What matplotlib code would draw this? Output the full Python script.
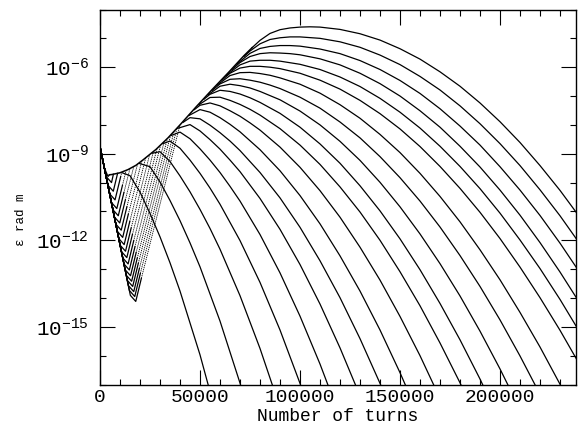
import numpy as np
import matplotlib
matplotlib.use("Agg")
import matplotlib.pyplot as plt
from matplotlib.ticker import NullFormatter

# Шрифт под старую печатную графику
plt.rcParams['font.family'] = ['Liberation Mono', 'DejaVu Sans']
plt.rcParams['mathtext.fontset'] = 'custom'
plt.rcParams['mathtext.rm'] = 'Liberation Mono'
plt.rcParams['mathtext.it'] = 'Liberation Mono'

# Все кривые стартуют из одной точки (lg eps при нуле оборотов)
start_log = -8.75

# Общая огибающая роста: обороты и lg eps
env_x = [4700, 6000, 10000, 14000, 18000, 21400, 28000, 34000, 40000, 48000, 56000, 64000, 72000, 76100]
env_log = [-9.73, -9.72, -9.66, -9.55, -9.40, -9.22, -8.85, -8.45, -8.00, -7.38, -6.78, -6.20, -5.60, -5.32]

# Начальный спад: точка схода с линии спада, минимум, начало подъёма, выход на огибающую
drop_x = [15180, 14680, 14180, 13650, 13120, 12560, 11970, 11350, 10710, 10060,
          9380, 8650, 7910, 7180, 6440, 5710, 4820, 3940, 3060, 2180]
drop_log = [-13.91, -13.74, -13.57, -13.39, -13.21, -13.02, -12.82, -12.61, -12.39, -12.17,
            -11.94, -11.69, -11.44, -11.19, -10.94, -10.69, -10.39, -10.09, -9.79, -9.49]
u_x = [17880, 17380, 16880, 16350, 15820, 15260, 14670, 14050, 13410, 12760,
       12080, 11350, 10610, 9880, 9140, 8410, 7520, 6640, 5760, 4000]
u_log = [-14.12, -13.95, -13.78, -13.60, -13.42, -13.23, -13.03, -12.82, -12.60, -12.38,
         -12.15, -11.90, -11.65, -11.40, -11.15, -10.90, -10.60, -10.30, -10.00, -9.79]
arm_x = [20680, 20180, 19680, 19150, 18620, 18060, 17470, 16850, 16210, 15560,
         14880, 14150, 13410, 12680, 11940, 11210, 10320, 8800, 6700, 4700]
arm_log = [-13.32, -13.15, -12.98, -12.80, -12.62, -12.43, -12.23, -12.02, -11.80, -11.58,
           -11.35, -11.10, -10.85, -10.60, -10.35, -10.10, -9.80, -9.68, -9.71, -9.73]
join_x = [40000, 38500, 37000, 35300, 33700, 32100, 30300, 28500, 26700, 24800,
          22900, 20900, 18800, 16900, 15000, 13100, 10900, 8800, 6700, 4700]
join_log = [-8.00, -8.11, -8.23, -8.35, -8.47, -8.58, -8.70, -8.82, -8.93, -9.03,
            -9.13, -9.25, -9.35, -9.44, -9.51, -9.57, -9.64, -9.68, -9.71, -9.73]

# Спад кривых после отрыва от огибающей: тысячи оборотов и lg eps
t00 = [76.1, 80, 85, 90, 95, 100, 105, 110, 120, 130, 140, 150, 160, 170, 180, 190, 200, 210, 220, 230, 240, 250]
e00 = [-5.32, -5.07, -4.83, -4.70, -4.64, -4.61, -4.60, -4.61, -4.69, -4.84, -5.06, -5.36, -5.72, -6.16, -6.66,
       -7.24, -7.89, -8.61, -9.41, -10.27, -11.21, -12.20]
t01 = [72, 75, 80, 85, 90, 95, 100, 110, 120, 130, 140, 150, 160, 170, 180, 190, 200, 210, 220, 230, 240, 250]
e01 = [-5.63, -5.44, -5.19, -5.04, -4.98, -4.95, -4.95, -5.00, -5.12, -5.31, -5.58, -5.91, -6.32, -6.79, -7.34,
       -7.96, -8.65, -9.41, -10.25, -11.15, -12.13, -13.16]
t02 = [68.5, 75, 80, 85, 90, 95, 100, 110, 120, 130, 140, 150, 160, 170, 180, 190, 200, 210, 220, 230, 240, 250]
e02 = [-5.89, -5.52, -5.35, -5.28, -5.25, -5.25, -5.27, -5.37, -5.53, -5.77, -6.08, -6.46, -6.91, -7.44, -8.04,
       -8.70, -9.45, -10.26, -11.14, -12.10, -13.13, -14.22]
t03 = [65.9, 70, 75, 80, 85, 90, 95, 100, 110, 120, 130, 140, 150, 160, 170, 180, 190, 200, 210, 220, 230, 240, 250]
e03 = [-6.09, -5.84, -5.63, -5.53, -5.50, -5.51, -5.53, -5.57, -5.71, -5.92, -6.21, -6.57, -7.00, -7.51, -8.08,
       -8.74, -9.46, -10.26, -11.13, -12.08, -13.10, -14.19, -15.34]
t04 = [63.1, 65, 70, 75, 80, 85, 90, 100, 110, 120, 130, 140, 150, 160, 170, 180, 190, 200, 210, 220, 230, 240, 250]
e04 = [-6.30, -6.18, -5.92, -5.79, -5.76, -5.76, -5.79, -5.90, -6.08, -6.34, -6.67, -7.08, -7.56, -8.11, -8.74,
       -9.44, -10.21, -11.06, -11.99, -12.98, -14.05, -15.20, -16.40]
t05 = [61, 65, 70, 75, 80, 85, 90, 100, 110, 120, 130, 140, 150, 160, 170, 180, 190, 200, 210, 220, 230, 240, 250]
e05 = [-6.45, -6.21, -6.03, -5.97, -5.97, -6.00, -6.05, -6.21, -6.45, -6.76, -7.15, -7.61, -8.14, -8.75, -9.44,
       -10.20, -11.03, -11.94, -12.93, -13.99, -15.12, -16.33, -17.60]
t06 = [58.6, 65, 70, 75, 80, 85, 90, 100, 110, 120, 130, 140, 150, 160, 170, 180, 190, 200, 210, 220, 230, 240]
e06 = [-6.62, -6.29, -6.19, -6.18, -6.22, -6.28, -6.37, -6.59, -6.90, -7.30, -7.77, -8.33, -8.96, -9.68, -10.48,
       -11.36, -12.33, -13.37, -14.50, -15.70, -16.99, -18.37]
t07 = [56.2, 60, 65, 70, 75, 80, 85, 90, 100, 110, 120, 130, 140, 150, 160, 170, 180, 190, 200, 210, 220]
e07 = [-6.80, -6.58, -6.42, -6.40, -6.45, -6.52, -6.62, -6.74, -7.04, -7.42, -7.90, -8.45, -9.10, -9.83, -10.64,
       -11.54, -12.53, -13.60, -14.76, -16.01, -17.34]
t08 = [54.2, 60, 65, 70, 75, 80, 90, 100, 110, 120, 130, 140, 150, 160, 170, 180, 190, 200, 210]
e08 = [-6.95, -6.66, -6.59, -6.64, -6.72, -6.84, -7.13, -7.52, -8.00, -8.57, -9.23, -9.99, -10.84, -11.78, -12.81,
       -13.93, -15.15, -16.46, -17.86]
t09 = [52, 55, 60, 65, 70, 75, 80, 90, 100, 110, 120, 130, 140, 150, 160, 170, 180, 190, 200]
e09 = [-7.11, -6.94, -6.80, -6.84, -6.93, -7.06, -7.22, -7.60, -8.08, -8.66, -9.33, -10.11, -10.98, -11.95, -13.02,
       -14.19, -15.45, -16.81, -18.28]
t10 = [49.5, 55, 60, 65, 70, 75, 80, 90, 100, 110, 120, 130, 140, 150, 160, 170, 180, 190]
e10 = [-7.30, -7.05, -7.04, -7.15, -7.29, -7.46, -7.66, -8.13, -8.70, -9.37, -10.15, -11.02, -12.00, -13.09, -14.27,
       -15.56, -16.94, -18.43]
t11 = [47.2, 50, 55, 60, 65, 70, 75, 80, 90, 100, 110, 120, 130, 140, 150, 160, 170]
e11 = [-7.47, -7.32, -7.24, -7.34, -7.51, -7.70, -7.93, -8.18, -8.77, -9.47, -10.28, -11.20, -12.24, -13.38, -14.64,
       -16.00, -17.48]
t12 = [44.6, 50, 55, 60, 65, 70, 80, 90, 100, 110, 120, 130, 140, 150, 160]
e12 = [-7.67, -7.47, -7.56, -7.75, -7.98, -8.24, -8.86, -9.59, -10.45, -11.43, -12.54, -13.76, -15.11, -16.59, -18.18]
t13 = [41.6, 45, 50, 55, 60, 65, 70, 80, 90, 100, 110, 120, 130, 140, 150]
e13 = [-7.91, -7.75, -7.79, -8.01, -8.27, -8.56, -8.89, -9.65, -10.53, -11.55, -12.71, -13.99, -15.41, -16.96, -18.64]
t14 = [38.8, 45, 50, 55, 60, 65, 70, 80, 90, 100, 110, 120, 130]
e14 = [-8.12, -7.99, -8.21, -8.51, -8.84, -9.22, -9.62, -10.55, -11.62, -12.84, -14.21, -15.73, -17.39]
t15 = [35.5, 40, 45, 50, 55, 60, 65, 70, 80, 90, 100, 110, 120]
e15 = [-8.37, -8.25, -8.48, -8.83, -9.22, -9.65, -10.13, -10.64, -11.80, -13.13, -14.63, -16.29, -18.12]
t16 = [31.5, 35, 40, 45, 50, 55, 60, 70, 80, 90, 100, 110]
e16 = [-8.65, -8.56, -8.81, -9.22, -9.68, -10.19, -10.75, -12.01, -13.46, -15.11, -16.96, -19.00]
t17 = [26.3, 30, 35, 40, 45, 50, 55, 60, 70, 80, 90]
e17 = [-8.98, -8.93, -9.27, -9.77, -10.32, -10.93, -11.59, -12.31, -13.92, -15.75, -17.80]
t18 = [19.8, 25, 30, 35, 40, 45, 50, 60, 70, 80]
e18 = [-9.34, -9.45, -9.98, -10.62, -11.32, -12.09, -12.92, -14.80, -16.95, -19.37]
t19 = [11.1, 15, 20, 25, 30, 35, 40, 50, 60]
e19 = [-9.66, -9.76, -10.33, -11.07, -11.88, -12.78, -13.76, -15.97, -18.52]

turns = [t00, t01, t02, t03, t04, t05, t06, t07, t08, t09, t10, t11, t12, t13, t14, t15, t16, t17, t18, t19]
logs = [e00, e01, e02, e03, e04, e05, e06, e07, e08, e09, e10, e11, e12, e13, e14, e15, e16, e17, e18, e19]

fig = plt.figure(figsize=(5.8, 4.28), dpi=100)
ax = fig.add_axes([100 / 580, 43.5 / 428, 476 / 580, 375 / 428])

for i in range(len(turns)):
    # спад от старта, минимум и начало подъёма
    xs = [0, drop_x[i], u_x[i], arm_x[i]]
    ys = [start_log, drop_log[i], u_log[i], arm_log[i]]
    ax.plot(xs, 10.0 ** np.array(ys), color='black', lw=0.9)
    # подъём до огибающей пунктиром
    if join_x[i] > arm_x[i]:
        ax.plot([arm_x[i], join_x[i]], 10.0 ** np.array([arm_log[i], join_log[i]]),
                color='black', lw=0.6, ls=(0, (1.5, 1)))
    # спад после отрыва
    ax.plot(np.array(turns[i]) * 1000, 10.0 ** np.array(logs[i]), color='black', lw=0.9)

# огибающая
ax.plot(env_x, 10.0 ** np.array(env_log), color='black', lw=1.1)

ax.set_yscale('log')
ax.set_xlim(0, 238000)
ax.set_ylim(1e-17, 1e-4)
ax.set_xticks([0, 50000, 100000, 150000, 200000])
ax.set_xticklabels(['0', '50000', '100000', '150000', '200000'])
ax.set_xticks(np.arange(0, 238000, 10000), minor=True)
ax.set_yticks([1e-15, 1e-12, 1e-9, 1e-6])
ax.set_yticklabels([r'$10^{-15}$', r'$10^{-12}$', r'$10^{-9}$', r'$10^{-6}$'])
ax.set_yticks(10.0 ** np.arange(-17, -3), minor=True)
ax.yaxis.set_minor_formatter(NullFormatter())
ax.tick_params(which='both', direction='in', top=True, right=True, width=0.8)
ax.tick_params(axis='x', which='major', length=11, labelsize=14, pad=3)
ax.tick_params(axis='y', which='major', length=11, labelsize=15, pad=8)
ax.tick_params(which='minor', length=4.5)
for s in ax.spines.values():
    s.set_linewidth(1.0)

ax.set_xlabel('Number of turns', fontsize=13)
ax.xaxis.set_label_coords(0.5, -0.062)
ax.set_ylabel('ε rad m', fontsize=9)
ax.yaxis.set_label_coords(-0.153, 0.44)

fig.savefig('out.png')
